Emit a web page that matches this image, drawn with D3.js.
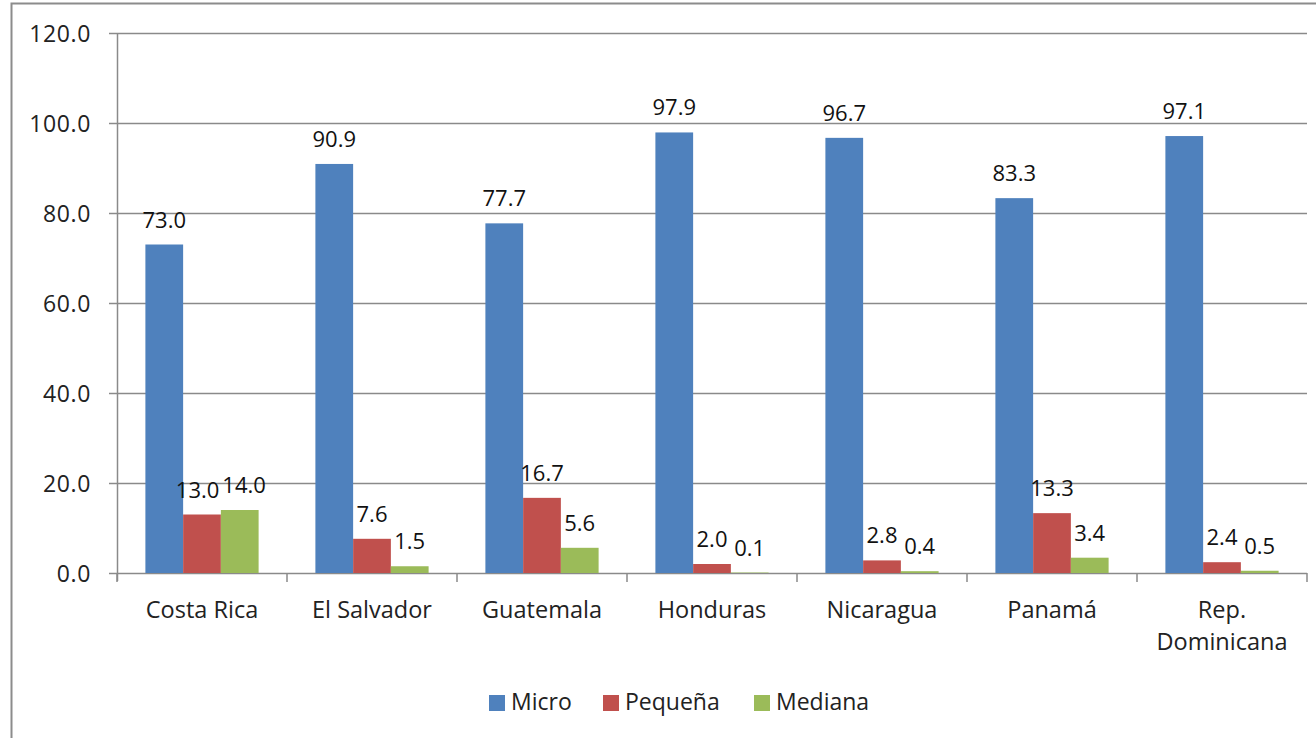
<!DOCTYPE html>
<html>
<head>
<meta charset="utf-8">
<script src="https://cdn.jsdelivr.net/npm/d3@7"></script>
<style>
  body { margin: 0; background: #fff; }
  svg { display: block; }
</style>
</head>
<body>
<svg id="chart" width="1316" height="738"></svg>
<script>
// data
var countries = ["Costa Rica", "El Salvador", "Guatemala", "Honduras", "Nicaragua", "Panamá", "Rep. Dominicana"];
var series = ["Micro", "Pequeña", "Mediana"];
var micro   = [73.0, 90.9, 77.7, 97.9, 96.7, 83.3, 97.1];
var pequena = [13.0, 7.6, 16.7, 2.0, 2.8, 13.3, 2.4];
var mediana = [14.0, 1.5, 5.6, 0.1, 0.4, 3.4, 0.5];
var yTicks  = [0, 20, 40, 60, 80, 100, 120];

var colors = ["#4F81BD", "#C0504D", "#9BBB59"];
var values = [micro, pequena, mediana];

var svg = d3.select("#chart");
var plotLeft = 117, plotRight = 1307, plotTop = 33, plotBottom = 573;
var font = "Open Sans";

// outer frame
svg.append("rect")
    .attr("x", 11.5).attr("y", 3.5)
    .attr("width", 1320).attr("height", 760)
    .attr("fill", "#fff")
    .attr("stroke", "#8c8c8c")
    .attr("stroke-width", 2);

var x = d3.scaleBand()
    .domain(countries)
    .range([plotLeft, plotRight])
    .paddingInner(0.334)
    .paddingOuter(0.167);

var xs = d3.scaleBand()
    .domain(series)
    .range([0, x.bandwidth()]);

var y = d3.scaleLinear()
    .domain([0, 120])
    .range([plotBottom, plotTop]);

// gridlines
svg.append("g").selectAll("line")
    .data(yTicks)
    .enter().append("line")
    .attr("x1", plotLeft - 8).attr("x2", plotRight)
    .attr("y1", function(d) { return y(d) + 0.5; })
    .attr("y2", function(d) { return y(d) + 0.5; })
    .attr("stroke", "#8a8a8a")
    .attr("stroke-width", 1.5);

// y axis line
svg.append("line")
    .attr("x1", plotLeft + 0.5).attr("x2", plotLeft + 0.5)
    .attr("y1", plotTop).attr("y2", plotBottom + 8)
    .attr("stroke", "#8a8a8a").attr("stroke-width", 1.5);

// y tick labels
svg.append("g").selectAll("text")
    .data(yTicks)
    .enter().append("text")
    .attr("x", 91)
    .attr("y", function(d) { return y(d) + 8.5; })
    .attr("text-anchor", "end")
    .attr("font-family", font)
    .attr("font-size", 23)
    .attr("letter-spacing", 0.6)
    .attr("fill", "#222")
    .text(function(d) { return d3.format(".1f")(d); });

// x tick marks at category boundaries
var step = (plotRight - plotLeft) / countries.length;
svg.append("g").selectAll("line")
    .data(d3.range(countries.length + 1))
    .enter().append("line")
    .attr("x1", function(i) { return plotLeft + i * step; })
    .attr("x2", function(i) { return plotLeft + i * step; })
    .attr("y1", plotBottom).attr("y2", plotBottom + 9)
    .attr("stroke", "#8a8a8a").attr("stroke-width", 1.5);

// bars
var groups = svg.append("g").selectAll("g")
    .data(series)
    .enter().append("g")
    .attr("fill", function(d, i) { return colors[i]; });

function rows(s, si) {
  return countries.map(function(c, ci) { return {c: c, s: s, v: values[si][ci]}; });
}

groups.selectAll("rect")
    .data(rows)
    .enter().append("rect")
    .attr("x", function(d) { return x(d.c) + xs(d.s); })
    .attr("y", function(d) { return y(d.v); })
    .attr("width", xs.bandwidth())
    .attr("height", function(d) { return y(0) - y(d.v); });

// data labels
var labelLayer = svg.append("g");
var labels = [];
series.forEach(function(s, si) {
  labels[si] = labelLayer.selectAll(null)
    .data(rows(s, si))
    .enter().append("text")
    .attr("x", function(d) { return x(d.c) + xs(d.s) + xs.bandwidth() / 2; })
    .attr("y", function(d) { return y(d.v) - 17; })
    .attr("text-anchor", "middle")
    .attr("font-family", font)
    .attr("font-size", 22)
    .attr("fill", "#111")
    .text(function(d) { return d3.format(".1f")(d.v); })
    .nodes();
});

// push neighbouring labels apart when they collide
countries.forEach(function(c, ci) {
  for (var si = 1; si < series.length; si++) {
    var a = labels[si - 1][ci].getBBox(), bNode = labels[si][ci], b = bNode.getBBox();
    var vOverlap = a.y < b.y + b.height && b.y < a.y + a.height;
    var hOverlap = a.x + a.width + 3 - b.x;
    if (vOverlap && hOverlap > 0) {
      d3.select(labels[si - 1][ci]).attr("x", +d3.select(labels[si - 1][ci]).attr("x") - hOverlap / 2);
      d3.select(bNode).attr("x", +d3.select(bNode).attr("x") + hOverlap / 2);
    }
  }
});

// category labels
svg.append("g").selectAll("text")
    .data(countries)
    .enter().append("text")
    .attr("text-anchor", "middle")
    .attr("font-family", font)
    .attr("font-size", 23.5)
    .attr("fill", "#222")
    .each(function(d) {
      var t = d3.select(this);
      var cx = x(d) + x.bandwidth() / 2;
      var lines = d === "Rep. Dominicana" ? ["Rep.", "Dominicana"] : [d];
      lines.forEach(function(l, i) {
        t.append("tspan").attr("x", cx).attr("y", 618 + i * 32).text(l);
      });
    });

// legend
var legendX = [489, 603, 754];
var legend = svg.append("g").selectAll("g")
    .data(series)
    .enter().append("g")
    .attr("transform", function(d, i) { return "translate(" + legendX[i] + ",695)"; });

legend.append("rect")
    .attr("width", 16).attr("height", 16)
    .attr("fill", function(d, i) { return colors[i]; });

legend.append("text")
    .attr("x", 22).attr("y", 15)
    .attr("font-family", font)
    .attr("font-size", 23)
    .attr("fill", "#222")
    .text(function(d) { return d; });
</script>
</body>
</html>
